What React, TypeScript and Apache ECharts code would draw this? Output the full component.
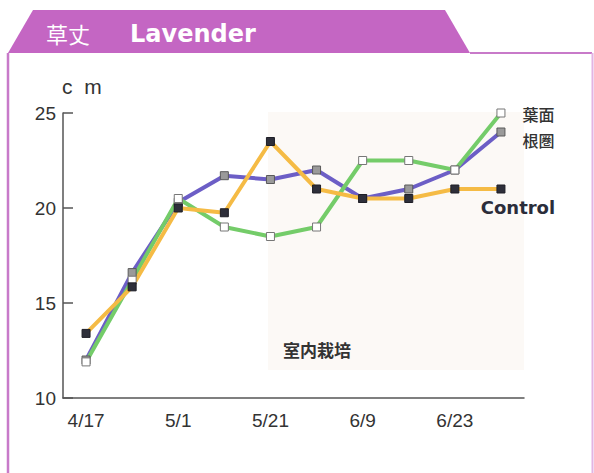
import React, { useEffect, useRef } from "react";
import * as echarts from "echarts";

// Sampling points (10 measurements) and the dates printed under the axis
const sampleNo = ["1", "2", "3", "4", "5", "6", "7", "8", "9", "10"];
const tickLabels = ["4/17", "", "5/1", "", "5/21", "", "6/9", "", "6/23", ""];

// Plant height (cm)
const rootZone = [12.0, 16.6, 20.3, 21.7, 21.5, 22.0, 20.5, 21.0, 22.0, 24.0]; // 根圏
const foliar = [11.9, 16.2, 20.5, 19.0, 18.5, 19.0, 22.5, 22.5, 22.0, 25.0]; // 葉面
const control = [13.4, 15.85, 20.0, 19.75, 23.5, 21.0, 20.5, 20.5, 21.0, 21.0]; // Control

const yTicks = { min: 10, max: 25, step: 5 };

const PURPLE = "#c466c3";
const FRAME = "#c87ac9";
const TEXT = "#333333";
const NUM_FONT = "'Liberation Sans Narrow', 'Liberation Sans', Arial, sans-serif";
const CJK_FONT = "'Noto Sans CJK JP', 'Noto Sans', sans-serif";

function withEndLabel(values: number[], label: object) {
  return values.map((v, i) =>
    i === values.length - 1 ? { value: v, label: { show: true, ...label } } : v
  );
}

export default function App() {
  const ref = useRef<HTMLDivElement>(null);

  useEffect(() => {
    if (!ref.current) return;
    const chart = echarts.init(ref.current, null, { renderer: "svg" });

    const lineSeries = (
      name: string,
      data: any[],
      color: string,
      fill: string,
      border: string
    ) => ({
      name,
      type: "line",
      data,
      symbol: "rect",
      symbolSize: 8,
      lineStyle: { color, width: 4 },
      itemStyle: { color: fill, borderColor: border, borderWidth: 1 },
      emphasis: { disabled: true },
      z: 3,
    });

    chart.setOption({
      animation: false,
      backgroundColor: "#ffffff",
      grid: { left: 63, right: 70, top: 113, bottom: 75 },
      xAxis: {
        type: "category",
        data: sampleNo,
        boundaryGap: true,
        axisLine: { lineStyle: { color: "#555", width: 1.5 } },
        axisTick: {
          inside: true,
          length: 6,
          interval: 0,
          lineStyle: { color: "#555", width: 1.5 },
        },
        axisLabel: {
          interval: 0,
          margin: 13,
          fontSize: 19,
          color: TEXT,
          fontFamily: NUM_FONT,
          formatter: (_v: string, i: number) => tickLabels[i],
        },
        splitLine: { show: false },
      },
      yAxis: {
        type: "value",
        min: yTicks.min,
        max: yTicks.max,
        interval: yTicks.step,
        axisLine: { show: true, lineStyle: { color: "#555", width: 1.5 } },
        axisTick: {
          show: true,
          inside: true,
          length: 10,
          lineStyle: { color: "#555", width: 1.5 },
        },
        axisLabel: {
          margin: 7,
          fontSize: 19,
          color: TEXT,
          fontFamily: NUM_FONT,
        },
        splitLine: { show: false },
      },
      series: [
        lineSeries(
          "根圏",
          withEndLabel(rootZone, {
            position: "right",
            distance: 17,
            offset: [0, 8],
            formatter: "根圏",
            fontSize: 16,
            fontWeight: 500,
            color: TEXT,
            fontFamily: CJK_FONT,
          }),
          "#6c5ec6",
          "#9a9a9a",
          "#5a5a5a"
        ),
        lineSeries(
          "葉面",
          withEndLabel(foliar, {
            position: "right",
            distance: 17,
            offset: [0, 1],
            formatter: "葉面",
            fontSize: 16,
            fontWeight: 500,
            color: TEXT,
            fontFamily: CJK_FONT,
          }),
          "#74cc69",
          "#ffffff",
          "#777777"
        ),
        lineSeries(
          "Control",
          withEndLabel(control, {
            position: "bottom",
            distance: 5,
            offset: [17, 0],
            formatter: "Control",
            fontSize: 18,
            fontWeight: 900,
            color: "#2b2d3a",
            fontFamily: "'DejaVu Sans', sans-serif",
          }),
          "#f5bb45",
          "#2e2f3a",
          "#1e1e26"
        ),
      ],
      graphic: [
        // header tab
        {
          type: "polygon",
          shape: {
            points: [
              [8, 53],
              [33, 10],
              [445, 10],
              [470, 53],
            ],
          },
          style: { fill: PURPLE },
          z: 0,
        },
        {
          type: "text",
          left: 46,
          top: 22,
          style: {
            text: "草丈",
            fill: "#ffffff",
            font: `400 22px ${CJK_FONT}`,
          },
        },
        {
          type: "text",
          left: 130,
          top: 22,
          style: {
            text: "Lavender",
            fill: "#ffffff",
            font: "700 24px 'DejaVu Sans', sans-serif",
          },
        },
        // frame
        {
          type: "polyline",
          shape: {
            points: [
              [470, 53],
              [592, 53],
            ],
          },
          style: { stroke: FRAME, lineWidth: 2 },
        },
        {
          type: "line",
          shape: { x1: 8, y1: 53, x2: 8, y2: 473 },
          style: { stroke: FRAME, lineWidth: 2.5 },
        },
        {
          type: "line",
          shape: { x1: 592.5, y1: 53, x2: 592.5, y2: 473 },
          style: { stroke: "#e3b4e3", lineWidth: 2 },
        },
        // indoor-cultivation period shading
        {
          type: "rect",
          shape: { x: 268, y: 112, width: 256, height: 258 },
          style: { fill: "#fcf9f6" },
          z: -1,
        },
        {
          type: "text",
          left: 283,
          top: 341,
          style: {
            text: "室内栽培",
            fill: TEXT,
            font: `700 17px ${CJK_FONT}`,
          },
        },
        // unit
        {
          type: "text",
          left: 62,
          top: 76,
          style: {
            text: "c  m",
            fill: TEXT,
            font: "400 21px 'Liberation Sans', Arial, sans-serif",
          },
        },
      ],
    });

    return () => chart.dispose();
  }, []);

  return (
    <div
      ref={ref}
      style={{ position: "fixed", left: 0, top: 0, width: 594, height: 473 }}
    />
  );
}
